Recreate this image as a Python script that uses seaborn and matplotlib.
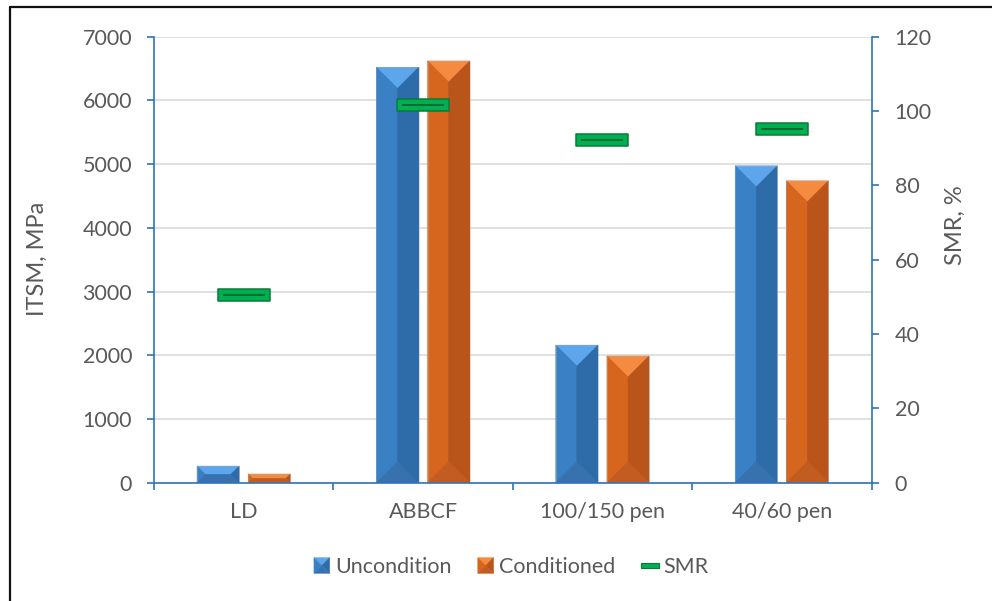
import numpy as np
import pandas as pd
import matplotlib
matplotlib.use("Agg")
import matplotlib.pyplot as plt
import seaborn as sns
from matplotlib.patches import Polygon, Rectangle
from matplotlib.path import Path
from matplotlib.lines import Line2D

# ---- data -------------------------------------------------------------
materials = ["LD", "ABBCF", "100/150 pen", "40/60 pen"]
series = ["Uncondition", "Conditioned"]
itsm_uncondition = [262, 6520, 2160, 4975]      # MPa
itsm_conditioned = [137, 6620, 1990, 4740]      # MPa
smr = [50.4, 101.6, 92.2, 95.2]                 # %
itsm_ticks = [0, 1000, 2000, 3000, 4000, 5000, 6000, 7000]
smr_ticks = [0, 20, 40, 60, 80, 100, 120]

# ---- styling ----------------------------------------------------------
AXIS_BLUE = "#2E75B6"
TEXT_GREY = "#595959"
GRID_GREY = "#D9D9D9"
# bevel shades: (top, left, right, bottom)
BLUE_SHADES = ("#5EA6EC", "#3A80C4", "#2E6CA9", "#3771AE")
ORANGE_SHADES = ("#F58B40", "#D6661D", "#B9541A", "#C35C21")
GREEN_FILL = "#00B050"
GREEN_EDGE = "#0B7A3A"
GREEN_DARK = "#0A6630"

sns.set_theme(style="white")
plt.rcParams["font.family"] = ["Lato", "DejaVu Sans"]
TICK_FS = 15.5
LABEL_FS = 17

fig = plt.figure(figsize=(9.92, 6.01), dpi=100)
ax = fig.add_axes([154 / 992, 1 - 482.7 / 601, (871.5 - 154) / 992, (482.7 - 36.7) / 601])

df = pd.DataFrame({
    "Material": materials * 2,
    "ITSM": itsm_uncondition + itsm_conditioned,
    "Condition": [series[0]] * len(materials) + [series[1]] * len(materials),
})

sns.barplot(data=df, x="Material", y="ITSM", hue="Condition", hue_order=series,
            palette=[BLUE_SHADES[1], ORANGE_SHADES[1]], saturation=1,
            width=0.57, gap=0.175, errorbar=None, legend=False, ax=ax,
            linewidth=0)

ax.set_xlim(-0.5, len(materials) - 0.5)
ax.set_ylim(itsm_ticks[0], itsm_ticks[-1])
ax.set_yticks(itsm_ticks)
ax.set_axisbelow(True)
ax.yaxis.grid(True, color=GRID_GREY, linewidth=1.1)
ax.xaxis.grid(False)

# ---- bevelled bar faces -------------------------------------------------
bbox = ax.get_window_extent()
xl, yl = ax.get_xlim(), ax.get_ylim()
px_x = bbox.width / (xl[1] - xl[0])
px_y = bbox.height / (yl[1] - yl[0])


def bevel(axis, x0, y0, w, h, shades, zorder):
    d_px = min(w * px_x / 2, h * px_y / 2)
    dx, dy = d_px / px_x, d_px / px_y
    x1, y1 = x0 + w, y0 + h
    top, left, right, bottom = shades
    faces = [
        ([(x0, y1), (x1, y1), (x1 - dx, y1 - dy), (x0 + dx, y1 - dy)], top),
        ([(x0, y0), (x0, y1), (x0 + dx, y1 - dy), (x0 + dx, y0 + dy)], left),
        ([(x1, y0), (x1, y1), (x1 - dx, y1 - dy), (x1 - dx, y0 + dy)], right),
        ([(x0, y0), (x1, y0), (x1 - dx, y0 + dy), (x0 + dx, y0 + dy)], bottom),
    ]
    # flat centre (only visible when the bevel is shallower than the bar)
    axis.add_patch(Rectangle((x0 + dx, y0 + dy), w - 2 * dx, h - 2 * dy,
                             facecolor=left, edgecolor="none", zorder=zorder))
    for pts, c in faces:
        axis.add_patch(Polygon(pts, closed=True, facecolor=c, edgecolor=c,
                               linewidth=0.3, zorder=zorder))
    axis.add_patch(Rectangle((x0, y0), w, h, facecolor="none",
                             edgecolor="#A9A9A9", linewidth=0.5, alpha=0.6,
                             zorder=zorder + 0.01))


for container, shades in zip(ax.containers, [BLUE_SHADES, ORANGE_SHADES]):
    for bar in container:
        bevel(ax, bar.get_x(), bar.get_y(), bar.get_width(), bar.get_height(),
              shades, bar.get_zorder() + 0.1)

# ---- left / bottom axis styling ---------------------------------------
for side in ["top", "right"]:
    ax.spines[side].set_visible(False)
for side in ["left", "bottom"]:
    ax.spines[side].set_color(AXIS_BLUE)
    ax.spines[side].set_linewidth(1.2)

ax.tick_params(axis="y", which="major", direction="out", length=5.2, width=1.2,
               color=AXIS_BLUE, labelcolor=TEXT_GREY, labelsize=TICK_FS, pad=10.5,
               left=True)
ax.set_xticks(np.arange(len(materials)))
ax.set_xticklabels(materials)
ax.set_xticks(np.arange(len(materials) + 1) - 0.5, minor=True)
ax.tick_params(axis="x", which="major", length=0, labelcolor=TEXT_GREY,
               labelsize=TICK_FS, pad=14)
ax.tick_params(axis="x", which="minor", direction="out", length=5.2, width=1.2,
               color=AXIS_BLUE, bottom=True)
ax.set_xlabel("")
ax.set_ylabel("ITSM, MPa", fontsize=LABEL_FS, color=TEXT_GREY, va="center")
ax.yaxis.set_label_coords((37 - 154) / 717.5, (482.7 - 259) / 446)

# ---- SMR on the secondary axis -----------------------------------------
ax2 = ax.twinx()
positions = np.arange(len(materials))
rect_marker = Path([(-1, -0.24), (1, -0.24), (1, 0.24), (-1, 0.24), (-1, -0.24)],
                   [Path.MOVETO, Path.LINETO, Path.LINETO, Path.LINETO, Path.CLOSEPOLY])
sns.scatterplot(x=positions, y=smr, ax=ax2, marker=rect_marker, s=1350,
                color=GREEN_FILL, edgecolor=GREEN_EDGE, linewidth=1.1,
                zorder=4, legend=False)
sns.scatterplot(x=positions, y=smr, ax=ax2, marker="_", s=900,
                color=GREEN_DARK, linewidth=1.3, zorder=5, legend=False)
ax2.set_ylim(smr_ticks[0], smr_ticks[-1])
ax2.set_yticks(smr_ticks)
ax2.set_xlim(-0.5, len(materials) - 0.5)
ax2.grid(False)
for side in ["top", "left", "bottom"]:
    ax2.spines[side].set_visible(False)
ax2.spines["right"].set_color(AXIS_BLUE)
ax2.spines["right"].set_linewidth(1.2)
ax2.tick_params(axis="y", direction="out", length=5.2, width=1.2, color=AXIS_BLUE,
                labelcolor=TEXT_GREY, labelsize=TICK_FS, pad=11.5, right=True)
ax2.set_ylabel("SMR, %", fontsize=LABEL_FS, color=TEXT_GREY, va="center",
               rotation=90)
ax2.yaxis.set_label_coords((955 - 154) / 717.5, (482.7 - 225) / 446)


# ---- legend with bevelled keys ------------------------------------------
class BevelKey:
    def __init__(self, shades):
        self.shades = shades

    def legend_artist(self, legend, orig_handle, fontsize, handlebox):
        x0, y0 = -handlebox.xdescent, -handlebox.ydescent
        s = handlebox.height
        xc, yc = x0 + s / 2, y0 + s / 2
        top, left, right, bottom = self.shades
        tris = [
            ([(x0, y0 + s), (x0 + s, y0 + s), (xc, yc)], top),
            ([(x0, y0), (x0, y0 + s), (xc, yc)], left),
            ([(x0 + s, y0), (x0 + s, y0 + s), (xc, yc)], right),
            ([(x0, y0), (x0 + s, y0), (xc, yc)], bottom),
        ]
        art = None
        for pts, c in tris:
            art = Polygon(pts, closed=True, facecolor=c, edgecolor=c, linewidth=0.3,
                          transform=handlebox.get_transform())
            handlebox.add_artist(art)
        return art


class BarKey:
    def legend_artist(self, legend, orig_handle, fontsize, handlebox):
        x0, y0 = -handlebox.xdescent, -handlebox.ydescent
        w, h = handlebox.width * 1.12, handlebox.height
        rh = h * 0.34
        art = Rectangle((x0, y0 + (h - rh) / 2), w, rh, facecolor=GREEN_FILL,
                        edgecolor=GREEN_EDGE, linewidth=0.8,
                        transform=handlebox.get_transform())
        handlebox.add_artist(art)
        return art


h_unc = Rectangle((0, 0), 1, 1)
h_con = Rectangle((0, 0), 1, 1)
h_smr = Rectangle((0, 0), 1, 1)
fig.legend([h_unc, h_con, h_smr], series + ["SMR"],
           handler_map={h_unc: BevelKey(BLUE_SHADES), h_con: BevelKey(ORANGE_SHADES),
                        h_smr: BarKey()},
           loc="center", bbox_to_anchor=(511 / 992, 1 - 567 / 601), ncol=3,
           frameon=False, fontsize=TICK_FS, labelcolor=TEXT_GREY,
           handlelength=0.75, handleheight=0.75, handletextpad=0.25,
           columnspacing=1.2)

# ---- outer frame --------------------------------------------------------
fig.add_artist(Line2D([9.5 / 992, 9.5 / 992], [0, 1 - 7 / 601], transform=fig.transFigure,
                      color="#111111", linewidth=1.6))
fig.add_artist(Line2D([9.5 / 992, 1], [1 - 7 / 601, 1 - 7 / 601], transform=fig.transFigure,
                      color="#111111", linewidth=1.6))

fig.savefig("out.png", dpi=100, facecolor="white")
